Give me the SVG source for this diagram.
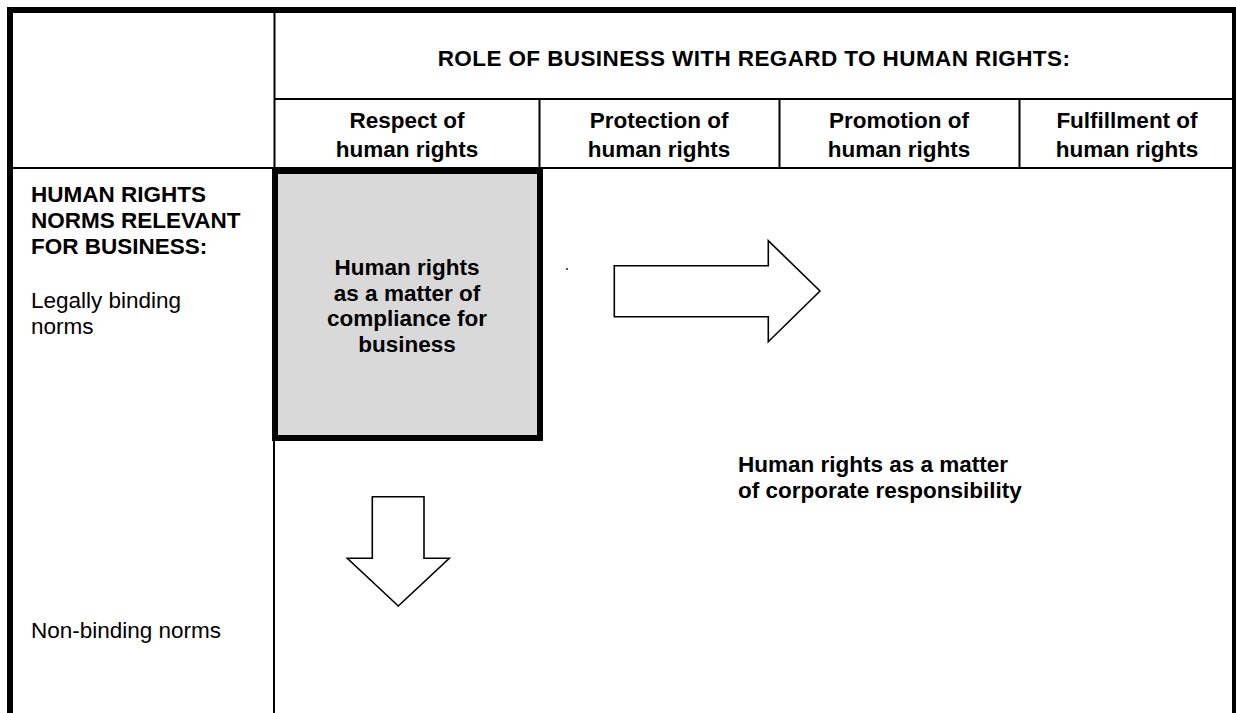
<svg xmlns="http://www.w3.org/2000/svg" width="1236" height="713" viewBox="0 0 1236 713">
  <defs>
    <style>
      .t { font-family: "Liberation Sans", Arial, sans-serif; font-size: 22.5px; fill: #000; }
      .b { font-weight: bold; }
      .c { text-anchor: middle; }
      .wide { letter-spacing: 0.4px; }
      .thin { stroke: #000; stroke-width: 2; fill: none; }
      .thick { stroke: #000; stroke-width: 6; fill: none; }
      .arrow { stroke: #000; stroke-width: 1.6; fill: #fff; stroke-linejoin: miter; }
    </style>
  </defs>
  <rect width="1236" height="713" fill="#fff"/>

  <!-- table grid -->
  <g id="grid">
    <line class="thin" x1="274.5" y1="10" x2="274.5" y2="170"/>
    <line class="thin" x1="274.5" y1="99" x2="1232" y2="99"/>
    <line class="thin" x1="10" y1="168" x2="1232" y2="168"/>
    <line class="thin" x1="539.5" y1="99" x2="539.5" y2="168"/>
    <line class="thin" x1="779.5" y1="99" x2="779.5" y2="168"/>
    <line class="thin" x1="1019.5" y1="99" x2="1019.5" y2="168"/>
    <line class="thin" x1="274" y1="440" x2="274" y2="713"/>
    <line class="thick" x1="7" y1="10" x2="1236" y2="10"/>
    <line class="thick" x1="10" y1="7" x2="10" y2="713"/>
    <line x1="1234" y1="7" x2="1234" y2="713" stroke="#000" stroke-width="4"/>
  </g>

  <!-- column headings -->
  <g id="role-heading">
    <text class="t b c wide" x="754" y="66">ROLE OF BUSINESS WITH REGARD TO HUMAN RIGHTS:</text>
  </g>
  <g id="col-respect">
    <text class="t b c" y="128"><tspan x="407">Respect of</tspan><tspan x="407" dy="29">human rights</tspan></text>
  </g>
  <g id="col-protection">
    <text class="t b c" y="128"><tspan x="659">Protection of</tspan><tspan x="659" dy="29">human rights</tspan></text>
  </g>
  <g id="col-promotion">
    <text class="t b c" y="128"><tspan x="899">Promotion of</tspan><tspan x="899" dy="29">human rights</tspan></text>
  </g>
  <g id="col-fulfillment">
    <text class="t b c" y="128"><tspan x="1127">Fulfillment of</tspan><tspan x="1127" dy="29">human rights</tspan></text>
  </g>

  <!-- row headings -->
  <g id="norms-heading">
    <text class="t b" y="202"><tspan x="31">HUMAN RIGHTS</tspan><tspan x="31" dy="26">NORMS RELEVANT</tspan><tspan x="31" dy="26">FOR BUSINESS:</tspan></text>
  </g>
  <g id="row-binding">
    <text class="t" y="308"><tspan x="31">Legally binding</tspan><tspan x="31" dy="26">norms</tspan></text>
  </g>
  <g id="row-nonbinding">
    <text class="t" x="31" y="638">Non-binding norms</text>
  </g>

  <!-- compliance cell -->
  <g id="compliance">
    <rect x="275" y="171" width="265" height="267" fill="#d9d9d9" stroke="#000" stroke-width="6"/>
    <text class="t b c" y="275"><tspan x="407">Human rights</tspan><tspan x="407" dy="25.5">as a matter of</tspan><tspan x="407" dy="25.5">compliance for</tspan><tspan x="407" dy="25.5">business</tspan></text>
  </g>

  <!-- corporate responsibility label -->
  <g id="responsibility">
    <text class="t b" y="472"><tspan x="738">Human rights as a matter</tspan><tspan x="738" dy="25.5">of corporate responsibility</tspan></text>
  </g>

  <circle cx="567" cy="269" r="0.9" fill="#000"/>

  <!-- block arrows -->
  <g id="connectors">
    <path class="arrow" d="M614.3,265.7 H768.3 V240.7 L820,291 L768.3,341.7 V316.7 H614.3 Z"/>
    <path class="arrow" d="M372.3,496.7 H424 V558.3 H449.3 L398.3,606 L347.3,558.3 H372.3 Z"/>
  </g>
</svg>
